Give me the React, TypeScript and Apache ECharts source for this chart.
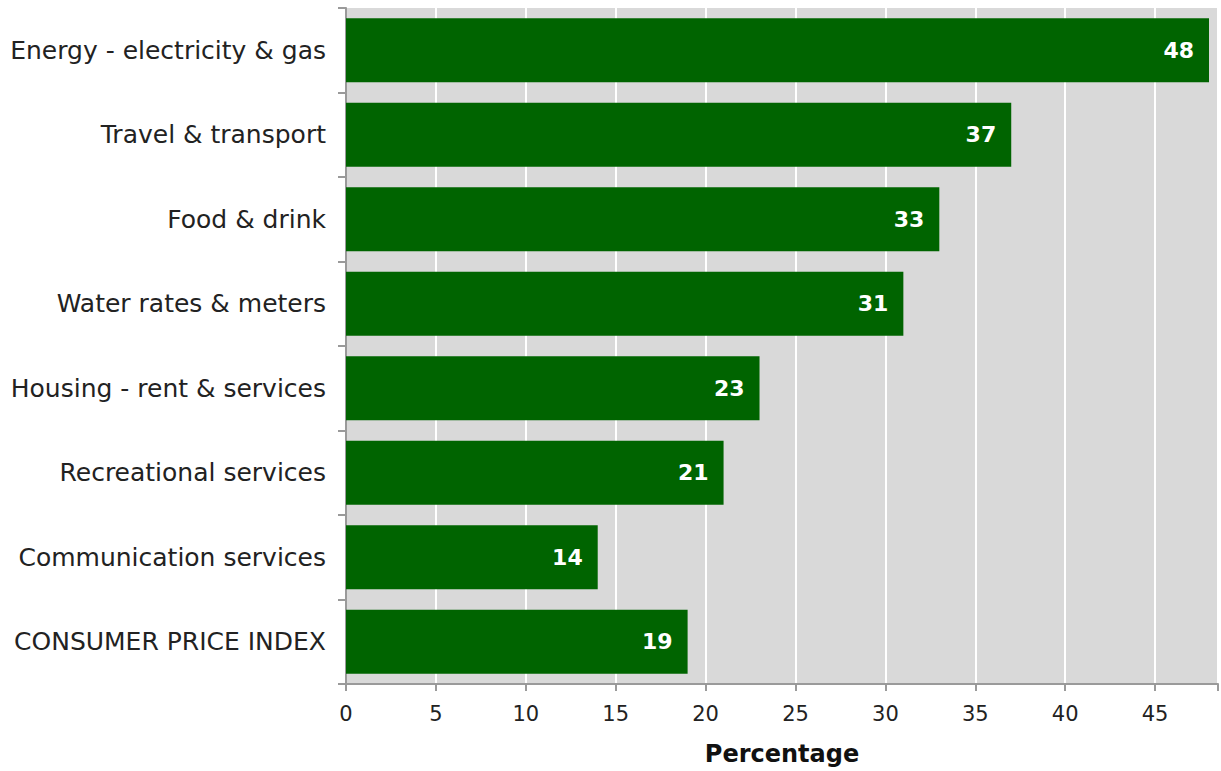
import React, { useEffect, useRef } from "react";
import * as echarts from "echarts";

const categories = [
  "Energy - electricity & gas",
  "Travel & transport",
  "Food & drink",
  "Water rates & meters",
  "Housing - rent & services",
  "Recreational services",
  "Communication services",
  "CONSUMER PRICE INDEX",
];
const values = [48, 37, 33, 31, 23, 21, 14, 19];
const xTicks = { min: 0, max: 48.5, interval: 5 };
const axisTitle = "Percentage";

const FONT = "'DejaVu Sans', sans-serif";

export default function App() {
  const ref = useRef<HTMLDivElement>(null);
  useEffect(() => {
    if (!ref.current) return;
    const chart = echarts.init(ref.current, null, { renderer: "svg" });
    chart.setOption({
      animation: false,
      grid: {
        left: 346,
        right: 0,
        top: 8,
        bottom: 85,
        show: true,
        backgroundColor: "#d9d9d9",
        borderWidth: 0,
      },
      xAxis: {
        type: "value",
        min: xTicks.min,
        max: xTicks.max,
        interval: xTicks.interval,
        name: axisTitle,
        nameLocation: "middle",
        nameGap: 58,
        nameTextStyle: { fontFamily: FONT, fontSize: 24, fontWeight: "bold", color: "#111" },
        axisLine: { show: true, lineStyle: { color: "#9a9a9a", width: 2 } },
        axisTick: { show: true, length: 7, lineStyle: { color: "#9a9a9a", width: 2 } },
        axisLabel: {
          fontFamily: FONT,
          fontSize: 21,
          color: "#222",
          margin: 19,
          formatter: (v: number) => (v % 5 === 0 ? String(v) : ""),
        },
        splitLine: { show: true, lineStyle: { color: "#ffffff", width: 2 } },
      },
      yAxis: {
        type: "category",
        data: categories,
        inverse: true,
        axisLine: { show: true, lineStyle: { color: "#9a9a9a", width: 2 } },
        axisTick: { show: true, length: 8, lineStyle: { color: "#9a9a9a", width: 2 } },
        axisLabel: { fontFamily: FONT, fontSize: 25, color: "#222", margin: 20 },
        splitLine: { show: false },
      },
      series: [
        {
          type: "bar",
          data: values,
          barWidth: 64,
          itemStyle: { color: "#006400" },
          label: {
            show: true,
            position: "insideRight",
            distance: 15,
            color: "#ffffff",
            fontFamily: FONT,
            fontSize: 22,
            fontWeight: "bold",
          },
        },
      ],
    });
    return () => chart.dispose();
  }, []);
  return (
    <div
      ref={ref}
      style={{ position: "absolute", left: 0, top: 0, width: 1221, height: 771 }}
    />
  );
}
